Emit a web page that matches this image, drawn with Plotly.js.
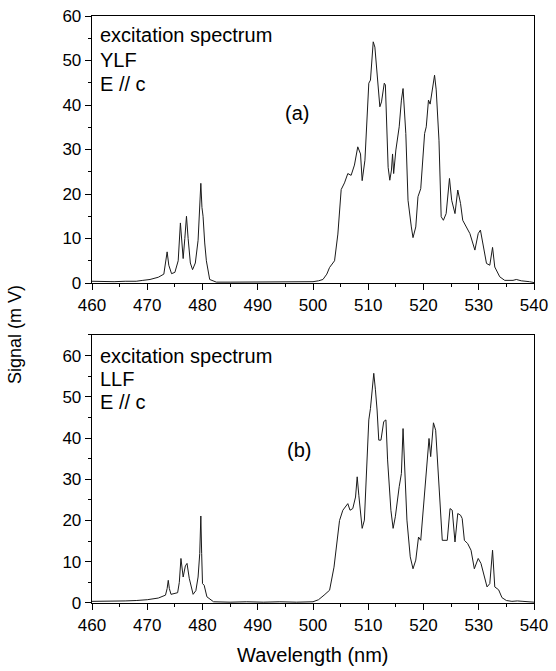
<!DOCTYPE html>
<html>
<head>
<meta charset="utf-8">
<script src="https://cdn.plot.ly/plotly-3.0.1.min.js"></script>
<style>html,body{margin:0;padding:0;background:#fff;}#chart{width:556px;height:671px;}</style>
</head>
<body>
<div id="chart"></div>
<script>
// Panel (a): YLF, E // c
const wlA = [460, 462, 464, 466, 468, 469.2, 470.5, 472, 473, 473.3, 473.6, 473.9, 474.4, 475, 475.6, 476.0, 476.3, 476.5, 476.8, 477.1, 477.4, 477.8, 478.2, 478.7, 479.2, 479.5, 479.7, 479.9, 480.1, 480.4, 480.7, 481.3, 482.5, 485, 488, 491, 494, 497, 500, 501, 501.8, 502.5, 503, 503.9, 504.5, 505.1, 505.7, 506.3, 506.9, 507.5, 508.1, 508.6, 508.9, 509.4, 510.1, 510.4, 510.9, 511.2, 511.5, 512.1, 512.4, 512.9, 513.1, 513.6, 513.9, 514.2, 514.4, 514.6, 515.0, 515.6, 516.0, 516.3, 516.8, 517.2, 517.8, 518.1, 518.6, 519.0, 519.5, 519.9, 520.2, 520.5, 520.9, 521.2, 521.6, 522.0, 522.3, 522.8, 523.2, 523.6, 524.1, 524.7, 525.1, 525.7, 526.2, 526.7, 527.1, 527.8, 528.4, 529.3, 529.9, 530.3, 530.8, 531.4, 532.0, 532.5, 532.9, 533.8, 534.7, 536.2, 536.8, 537.7, 539.2, 540];
const sigA = [0.4, 0.3, 0.3, 0.4, 0.4, 0.6, 0.8, 1.3, 2.0, 4.5, 7.0, 4.0, 2.1, 2.4, 5.0, 13.5, 9.0, 5.5, 10.0, 15.0, 10.0, 4.5, 3.0, 4.5, 9.6, 16.0, 22.4, 17.0, 15.0, 9.0, 5.0, 0.8, 0.2, 0.2, 0.2, 0.3, 0.2, 0.2, 0.3, 0.5, 0.8, 2.0, 3.5, 5.0, 11.0, 21.0, 22.5, 24.6, 24.2, 26.5, 30.6, 29.0, 23.0, 27.6, 44.9, 45.6, 54.2, 53.0, 48.6, 39.6, 40.7, 44.9, 44.5, 26.0, 23.1, 25.4, 29.0, 24.6, 29.9, 35.1, 41.1, 43.7, 33.6, 18.6, 12.6, 10.2, 12.6, 19.4, 21.2, 27.6, 33.6, 35.1, 41.1, 40.2, 44.1, 46.7, 43.4, 32.1, 14.9, 14.1, 15.6, 23.5, 18.6, 15.6, 20.9, 17.9, 14.1, 12.6, 11.1, 7.4, 11.1, 11.9, 8.1, 4.4, 4.0, 8.0, 3.6, 1.4, 0.6, 0.6, 0.8, 0.5, 0.3, 0.1];

// Panel (b): LLF, E // c
const wlB = [460, 463, 466, 468, 470, 472, 473.3, 473.6, 473.8, 474.0, 474.3, 475.5, 475.8, 476.1, 476.5, 476.9, 477.2, 477.6, 478.3, 478.8, 479.2, 479.5, 479.7, 479.85, 480.0, 480.3, 480.8, 482, 485, 488, 491, 494, 497, 500, 501, 502, 503, 503.8, 504.3, 504.8, 505.4, 506.3, 506.7, 507.2, 507.7, 508.0, 508.3, 508.9, 509.3, 509.8, 510.1, 510.4, 511.0, 511.3, 511.6, 511.9, 512.3, 512.8, 513.2, 513.5, 514.1, 514.5, 514.9, 515.6, 516.0, 516.3, 516.6, 517.0, 517.6, 518.1, 518.6, 519.1, 519.5, 520.0, 520.6, 521.0, 521.3, 521.8, 522.2, 522.6, 523.1, 523.4, 524.3, 524.8, 525.2, 525.7, 526.2, 526.7, 527.0, 527.4, 528.0, 528.6, 529.2, 529.9, 530.4, 531.0, 531.5, 532.0, 532.5, 532.9, 533.6, 534.2, 535, 536, 537, 538, 540];
const sigB = [0.4, 0.4, 0.5, 0.6, 0.8, 1.2, 1.9, 3.5, 5.5, 3.5, 2.1, 2.5, 5.0, 10.8, 6.3, 9.0, 9.6, 6.0, 2.1, 3.0, 6.3, 12.0, 21.1, 12.0, 4.7, 4.3, 1.5, 0.3, 0.2, 0.3, 0.2, 0.3, 0.2, 0.3, 0.8, 1.9, 3.1, 8.7, 14.4, 20.0, 22.5, 24.1, 22.5, 22.9, 25.7, 30.6, 26.0, 18.1, 20.1, 34.7, 44.4, 47.2, 55.7, 51.7, 46.8, 39.5, 39.5, 44.0, 44.4, 34.7, 22.5, 18.1, 20.9, 28.2, 31.4, 42.3, 33.0, 20.1, 11.2, 8.3, 10.4, 16.0, 15.2, 23.3, 34.7, 39.9, 35.5, 43.7, 41.9, 32.2, 19.3, 15.2, 15.2, 22.9, 22.5, 14.8, 21.7, 21.3, 20.5, 15.2, 14.4, 12.8, 8.3, 10.8, 9.6, 6.3, 3.9, 4.7, 12.8, 3.9, 3.2, 1.3, 0.6, 0.4, 0.5, 0.4, 0.2];

const xTicks = [460, 470, 480, 490, 500, 510, 520, 530, 540];
const yTicks = [0, 10, 20, 30, 40, 50, 60];
const labelsA = ["excitation spectrum", "YLF", "E // c", "(a)"];
const labelsB = ["excitation spectrum", "LLF", "E // c", "(b)"];
const yTitle = "Signal (m V)";
const xTitle = "Wavelength (nm)";

const FONT = "Arial, 'Liberation Sans', Helvetica, sans-serif";
const lineStyle = {color: '#1a1a1a', width: 1};

const traces = [
  {x: wlA, y: sigA, type: 'scatter', mode: 'lines', line: lineStyle, xaxis: 'x', yaxis: 'y', hoverinfo: 'skip'},
  {x: wlB, y: sigB, type: 'scatter', mode: 'lines', line: lineStyle, xaxis: 'x2', yaxis: 'y2', hoverinfo: 'skip'}
];

function xAxis(anchor) {
  return {
    anchor: anchor, domain: [0, 1], range: [460, 540], tickvals: xTicks,
    showline: true, linecolor: '#000', linewidth: 1.3, mirror: true,
    ticks: 'outside', ticklen: 6, tickwidth: 1, tickcolor: '#000',
    minor: {dtick: 5, tick0: 460, ticks: 'outside', ticklen: 3, tickcolor: '#000', tickwidth: 1},
    showgrid: false, zeroline: false,
    tickfont: {family: FONT, size: 17, color: '#000'}
  };
}
function yAxis(anchor, domain, range) {
  return {
    anchor: anchor, domain: domain, range: range, tickvals: yTicks,
    showline: true, linecolor: '#000', linewidth: 1.3, mirror: true,
    ticks: 'outside', ticklen: 6, tickwidth: 1, tickcolor: '#000',
    minor: {dtick: 5, tick0: 0, ticks: 'outside', ticklen: 3, tickcolor: '#000', tickwidth: 1},
    showgrid: false, zeroline: false,
    tickfont: {family: FONT, size: 17, color: '#000'}
  };
}

const annFont = {family: FONT, size: 20, color: '#000'};
function txt(xref, yref, x, y, text, anchor) {
  return {xref: xref, yref: yref, x: x, y: y, text: text, showarrow: false,
          xanchor: anchor || 'left', yanchor: 'middle', font: annFont};
}

const annotations = [
  txt('x', 'y', 461, 55.7, labelsA[0]),
  txt('x', 'y', 461, 50.2, labelsA[1]),
  txt('x', 'y', 461, 44.8, labelsA[2]),
  txt('x', 'y', 497.1, 38.2, labelsA[3], 'center'),
  txt('x2', 'y2', 461, 60.0, labelsB[0]),
  txt('x2', 'y2', 461, 54.3, labelsB[1]),
  txt('x2', 'y2', 461, 48.8, labelsB[2]),
  txt('x2', 'y2', 497.5, 37.1, labelsB[3], 'center'),
  {xref: 'paper', yref: 'paper', x: -0.174, y: 0.4566, text: yTitle, textangle: -90,
   showarrow: false, xanchor: 'center', yanchor: 'middle', font: {family: FONT, size: 18, color: '#000'}},
  {xref: 'paper', yref: 'paper', x: 0.5, y: -0.0886, text: xTitle,
   showarrow: false, xanchor: 'center', yanchor: 'middle', font: annFont}
];

const layout = {
  width: 556, height: 671,
  margin: {l: 92, r: 22, t: 16, b: 68},
  paper_bgcolor: '#fff', plot_bgcolor: '#fff',
  showlegend: false,
  xaxis: xAxis('y'),
  yaxis: yAxis('x', [0.5451, 1], [0, 60]),
  xaxis2: xAxis('y2'),
  yaxis2: yAxis('x2', [0, 0.4566], [0, 65]),
  annotations: annotations,
  font: {family: FONT, color: '#000'}
};

Plotly.newPlot('chart', traces, layout, {displayModeBar: false, staticPlot: true});
</script>
</body>
</html>
